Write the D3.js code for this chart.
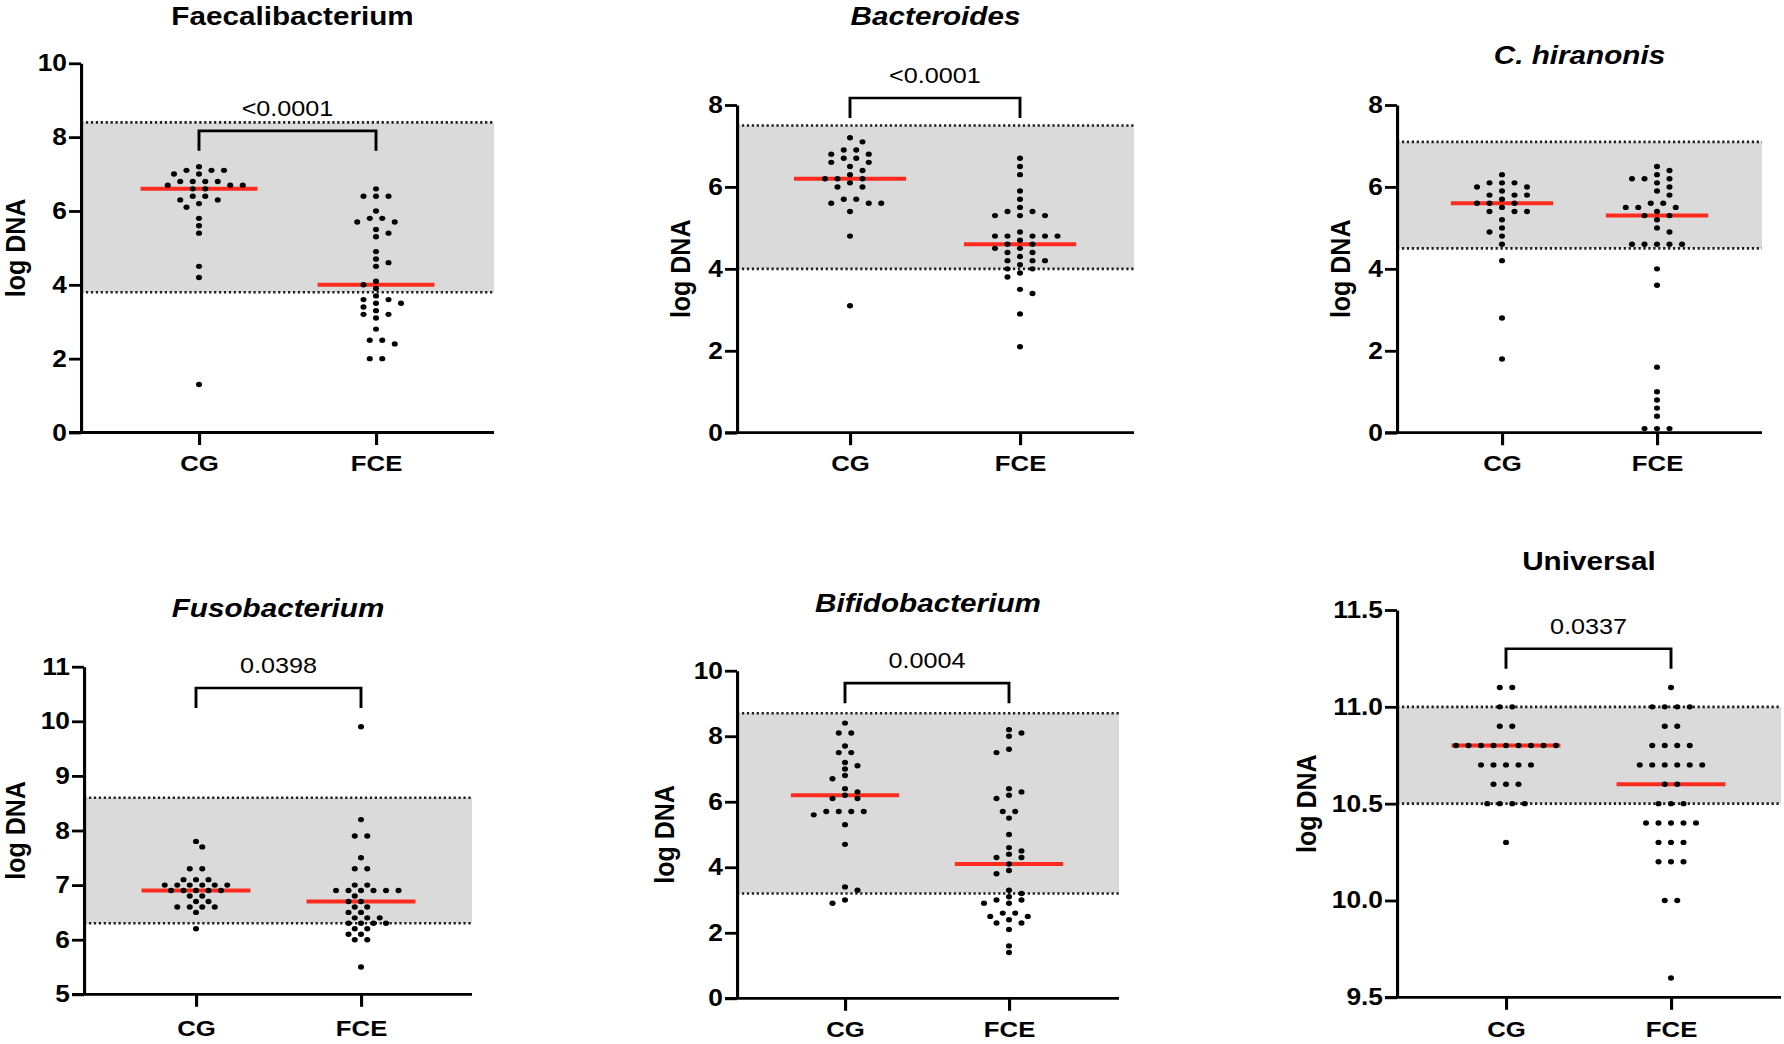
<!DOCTYPE html>
<html>
<head>
<meta charset="utf-8">
<script src="https://cdn.jsdelivr.net/npm/d3@7"></script>
<style>
  body { margin: 0; background: #fff; }
  text { font-family: "Liberation Sans", Arial, Helvetica, sans-serif; }
</style>
</head>
<body>
<div id="chart"></div>
<script>
/* DATA */
const groups = ["CG", "FCE"];
const titles = ["Faecalibacterium", "Bacteroides", "C. hiranonis", "Fusobacterium", "Bifidobacterium", "Universal"];
const italicTitle = [false, true, true, true, true, false];
const yDomains = [[0, 10], [0, 8], [0, 8], [5, 11], [0, 10], [9.5, 11.5]];
const yTicks = [[0, 2, 4, 6, 8, 10], [0, 2, 4, 6, 8], [0, 2, 4, 6, 8], [5, 6, 7, 8, 9, 10, 11], [0, 2, 4, 6, 8, 10], [9.5, 10, 10.5, 11, 11.5]];
const tickFormats = ["d", "d", "d", "d", "d", ".1f"];
const refLow = [3.8, 4.0, 4.5, 6.3, 3.2, 10.5];
const refHigh = [8.4, 7.5, 7.1, 8.6, 8.7, 11.0];
const pValues = ["<0.0001", "<0.0001", null, "0.0398", "0.0004", "0.0337"];
const bracketAt = [8.17, 8.17, null, 10.61, 9.62, 11.3];
const medianCG = [6.6, 6.2, 5.6, 6.9, 6.2, 10.8];
const medianFCE = [4.0, 4.6, 5.3, 6.7, 4.1, 10.6];

const faecaliCG = [7.2, 7.1, 7.1, 7.1, 7.0, 7.0, 6.8, 6.8, 6.8, 6.8, 6.7, 6.7, 6.7, 6.6, 6.6, 6.4, 6.4, 6.3, 6.3, 6.2, 6.1, 5.8, 5.6, 5.4, 4.5, 4.2, 1.3];
const faecaliFCE = [6.6, 6.4, 6.4, 6.4, 6.0, 5.8, 5.8, 5.7, 5.7, 5.5, 5.4, 5.3, 4.9, 4.7, 4.6, 4.5, 4.1, 4.0, 3.9, 3.7, 3.6, 3.6, 3.5, 3.5, 3.4, 3.3, 3.2, 3.2, 3.1, 2.8, 2.5, 2.5, 2.4, 2.0, 2.0];
const bacteroidesCG = [7.2, 7.1, 6.9, 6.9, 6.8, 6.8, 6.7, 6.7, 6.6, 6.6, 6.5, 6.4, 6.3, 6.2, 6.2, 6.2, 6.1, 6.0, 6.0, 5.7, 5.7, 5.6, 5.6, 5.6, 5.4, 4.8, 3.1];
const bacteroidesFCE = [6.7, 6.5, 6.3, 5.9, 5.7, 5.5, 5.4, 5.4, 5.3, 5.3, 5.3, 4.9, 4.8, 4.8, 4.8, 4.8, 4.8, 4.7, 4.6, 4.6, 4.5, 4.5, 4.4, 4.4, 4.3, 4.2, 4.2, 4.2, 4.1, 4.0, 4.0, 3.9, 3.8, 3.5, 3.4, 2.9, 2.1];
const hiranonisCG = [6.3, 6.1, 6.1, 6.1, 6.0, 6.0, 5.9, 5.8, 5.8, 5.8, 5.7, 5.6, 5.6, 5.6, 5.5, 5.4, 5.4, 5.4, 5.2, 5.0, 4.9, 4.8, 4.6, 4.2, 2.8, 1.8];
const hiranonisFCE = [6.5, 6.4, 6.3, 6.2, 6.2, 6.2, 6.1, 6.0, 5.9, 5.8, 5.6, 5.6, 5.5, 5.5, 5.5, 5.4, 5.3, 5.3, 5.2, 5.0, 4.9, 4.6, 4.6, 4.6, 4.6, 4.6, 4.0, 3.6, 1.6, 1.0, 0.8, 0.6, 0.4, 0.1, 0.1, 0.1];
const fusoCG = [7.8, 7.7, 7.3, 7.3, 7.1, 7.1, 7.1, 7.0, 7.0, 7.0, 7.0, 7.0, 7.0, 6.9, 6.9, 6.9, 6.9, 6.9, 6.8, 6.8, 6.7, 6.7, 6.6, 6.6, 6.6, 6.6, 6.5, 6.2];
const fusoFCE = [9.9, 8.2, 7.9, 7.9, 7.5, 7.3, 7.3, 7.0, 7.0, 6.9, 6.9, 6.9, 6.9, 6.9, 6.9, 6.8, 6.7, 6.7, 6.6, 6.6, 6.5, 6.5, 6.4, 6.4, 6.4, 6.3, 6.3, 6.3, 6.3, 6.2, 6.2, 6.1, 6.1, 6.0, 6.0, 5.5];
const bifidoCG = [8.4, 8.1, 8.1, 7.7, 7.5, 7.5, 7.2, 7.1, 7.0, 6.8, 6.7, 6.4, 6.3, 6.2, 6.1, 6.1, 5.7, 5.7, 5.7, 5.7, 5.6, 5.3, 4.7, 3.4, 3.3, 3.0, 2.9];
const bifidoFCE = [8.2, 8.1, 8.0, 7.6, 7.5, 6.4, 6.3, 6.2, 6.1, 5.7, 5.7, 5.5, 5.0, 4.6, 4.5, 4.4, 4.3, 4.3, 4.1, 3.9, 3.8, 3.3, 3.2, 3.1, 3.0, 3.0, 2.9, 2.9, 2.6, 2.6, 2.5, 2.5, 2.4, 2.3, 2.3, 2.1, 1.6, 1.4];
const universalCG = [11.1, 11.1, 11.0, 11.0, 10.9, 10.9, 10.8, 10.8, 10.8, 10.8, 10.8, 10.8, 10.8, 10.8, 10.8, 10.7, 10.7, 10.7, 10.7, 10.7, 10.6, 10.6, 10.6, 10.5, 10.5, 10.5, 10.5, 10.3];
const universalFCE = [11.1, 11.0, 11.0, 11.0, 11.0, 10.9, 10.9, 10.8, 10.8, 10.8, 10.8, 10.7, 10.7, 10.7, 10.7, 10.7, 10.7, 10.6, 10.6, 10.5, 10.5, 10.5, 10.4, 10.4, 10.4, 10.4, 10.4, 10.3, 10.3, 10.3, 10.2, 10.2, 10.2, 10.0, 10.0, 9.6];

const series = [
  [faecaliCG, faecaliFCE],
  [bacteroidesCG, bacteroidesFCE],
  [hiranonisCG, hiranonisFCE],
  [fusoCG, fusoFCE],
  [bifidoCG, bifidoFCE],
  [universalCG, universalFCE]
];

/* LAYOUT (pixels of the 1784x1044 page) */
const SX = 1.12; // glyphs in the figure are slightly stretched sideways
const layout = [
  { x0: 81,   x1: 494,  cg: 199,  fce: 376,  yBot: 432.5, yTop: 63.3,  titleY: 25,  titleDx: 5, labelOff: 66, catY: 471 },
  { x0: 737,  x1: 1134, cg: 850,  fce: 1020, yBot: 432.7, yTop: 105,   titleY: 25,  titleDx: 0, labelOff: 57, catY: 471 },
  { x0: 1397, x1: 1762, cg: 1502, fce: 1657, yBot: 432.7, yTop: 105,   titleY: 64,  titleDx: 0, labelOff: 57, catY: 471 },
  { x0: 84,   x1: 472,  cg: 196,  fce: 361,  yBot: 994.3, yTop: 666.7, titleY: 617, titleDx: 0, labelOff: 69, catY: 1036 },
  { x0: 737,  x1: 1119, cg: 845,  fce: 1009, yBot: 998.3, yTop: 670.7, titleY: 612, titleDx: 0, labelOff: 73, catY: 1037 },
  { x0: 1397, x1: 1781, cg: 1506, fce: 1671, yBot: 997.3, yTop: 610,   titleY: 570, titleDx: 0, labelOff: 91, catY: 1037 }
];
const dotStep = 12.5;  // column spacing, page px
const dotMinDy = 5.8;  // vertical clearance inside a column
const dotR = 2.7;

// GraphPad-like scatter: equal values try a centred row first, otherwise each dot
// slides to the nearest free half-column on the emptier side
function swarm(values, yScale) {
  const placed = [];
  const ok = (dx, py) => placed.every(q => {
    const a = (q.dx - dx) / dotStep, b = (q.py - py) / dotMinDy;
    return a * a + b * b >= 0.999;
  });
  const ties = d3.groups(values, v => v).sort((a, b) => b[0] - a[0]);
  ties.forEach(([v, arr]) => {
    const py = yScale(v), n = arr.length;
    const offs = c => d3.range(n).map(k => c + (k - (n - 1) / 2) * dotStep);
    const lean = () => d3.sum(placed.filter(q => Math.abs(q.py - py) < 4 * dotMinDy), q => q.dx);
    const s0 = lean() > 0 ? -1 : 1;
    const rigid = [0, s0 * dotStep / 2, -s0 * dotStep / 2].find(c => offs(c).every(dx => ok(dx, py)));
    if (rigid !== undefined) {
      offs(rigid).forEach(dx => placed.push({ v, py, dx }));
      return;
    }
    arr.forEach(() => {
      const side = lean() > 0 ? -1 : 1;
      for (let j = 0; j < 80; j++) {
        const cand = j === 0 ? 0 : Math.ceil(j / 2) * dotStep / 2 * (j % 2 ? side : -side);
        if (ok(cand, py)) { placed.push({ v, py, dx: cand }); break; }
      }
    });
  });
  return placed;
}

const svg = d3.select("#chart").append("svg")
  .attr("width", 1784)
  .attr("height", 1044);

svg.append("rect").attr("width", 1784).attr("height", 1044).attr("fill", "#fff");

titles.forEach((title, i) => {
  const L = layout[i];
  const w = (L.x1 - L.x0) / SX;
  const g = svg.append("g").attr("transform", `translate(${L.x0},0) scale(${SX},1)`);

  const x = d3.scalePoint().domain(groups).range([(L.cg - L.x0) / SX, (L.fce - L.x0) / SX]);
  const y = d3.scaleLinear().domain(yDomains[i]).range([L.yBot, L.yTop]);

  // reference interval
  g.append("rect")
    .attr("x", 0).attr("width", w)
    .attr("y", y(refHigh[i]))
    .attr("height", y(refLow[i]) - y(refHigh[i]))
    .attr("fill", "#dadada");

  g.selectAll("line.ref")
    .data([refLow[i], refHigh[i]])
    .join("line")
    .attr("class", "ref")
    .attr("x1", 0).attr("x2", w)
    .attr("y1", d => y(d)).attr("y2", d => y(d))
    .attr("stroke", "#1e1e1e")
    .attr("stroke-width", 2.6)
    .attr("stroke-dasharray", "2 2.4");

  // medians
  const half = 0.33 * (x("FCE") - x("CG"));
  g.selectAll("line.median")
    .data([medianCG[i], medianFCE[i]])
    .join("line")
    .attr("class", "median")
    .attr("x1", (d, k) => x(groups[k]) - half)
    .attr("x2", (d, k) => x(groups[k]) + half)
    .attr("y1", d => y(d)).attr("y2", d => y(d))
    .attr("stroke", "#ff2b1e")
    .attr("stroke-width", 4);

  // dots
  groups.forEach((grp, k) => {
    const pts = swarm(series[i][k], y);
    g.selectAll(`circle.g${k}`)
      .data(pts)
      .join("circle")
      .attr("class", `g${k}`)
      .attr("cx", d => x(grp) + d.dx / SX)
      .attr("cy", d => d.py)
      .attr("r", dotR)
      .attr("fill", "#000");
  });

  // y axis
  const yAxis = d3.axisLeft(y)
    .tickValues(yTicks[i])
    .tickFormat(d3.format(tickFormats[i]))
    .tickSize(12 / SX)
    .tickSizeOuter(0)
    .tickPadding(2 / SX);
  const yg = g.append("g").call(yAxis);
  yg.selectAll("path, line").attr("stroke", "#000").attr("stroke-width", 2.8);
  yg.selectAll("text")
    .attr("fill", "#000")
    .attr("font-size", 23.5)
    .attr("font-weight", "bold")
    .attr("font-family", "'Liberation Sans', Arial, sans-serif");

  // x axis
  const y0 = y(yDomains[i][0]);
  const xAxis = d3.axisBottom(x).tickSize(12.5).tickSizeOuter(0);
  const xg = g.append("g").attr("transform", `translate(0,${y0})`).call(xAxis);
  xg.select(".domain").remove();
  xg.append("line")
    .attr("x1", -12 / SX).attr("x2", w)
    .attr("stroke", "#000").attr("stroke-width", 2.8);
  xg.selectAll(".tick line").attr("stroke", "#000").attr("stroke-width", 2.8);
  xg.selectAll("text")
    .attr("dy", null)
    .attr("y", L.catY - y0)
    .attr("fill", "#000")
    .attr("font-size", 23)
    .attr("font-weight", "bold")
    .attr("font-family", "'Liberation Sans', Arial, sans-serif");

  // axis title
  g.append("text")
    .attr("transform", `translate(${-L.labelOff / SX},${(L.yBot + L.yTop) / 2}) rotate(-90)`)
    .attr("dy", "0.35em")
    .attr("text-anchor", "middle")
    .attr("font-size", 25)
    .attr("font-weight", "bold")
    .text("log DNA");

  // panel title
  g.append("text")
    .attr("x", w / 2 + L.titleDx / SX)
    .attr("y", L.titleY)
    .attr("text-anchor", "middle")
    .attr("font-size", 26.5)
    .attr("font-weight", "bold")
    .attr("font-style", italicTitle[i] ? "italic" : "normal")
    .text(title);

  // significance bracket
  if (pValues[i]) {
    const yb = y(bracketAt[i]);
    g.append("path")
      .attr("d", `M${x("CG")},${yb + 20}V${yb}H${x("FCE")}V${yb + 20}`)
      .attr("fill", "none")
      .attr("stroke", "#000")
      .attr("stroke-width", 2.6);
    g.append("text")
      .attr("x", (x("CG") + x("FCE")) / 2)
      .attr("y", yb - 15)
      .attr("text-anchor", "middle")
      .attr("font-size", 22.5)
      .text(pValues[i]);
  }
});
</script>
</body>
</html>
